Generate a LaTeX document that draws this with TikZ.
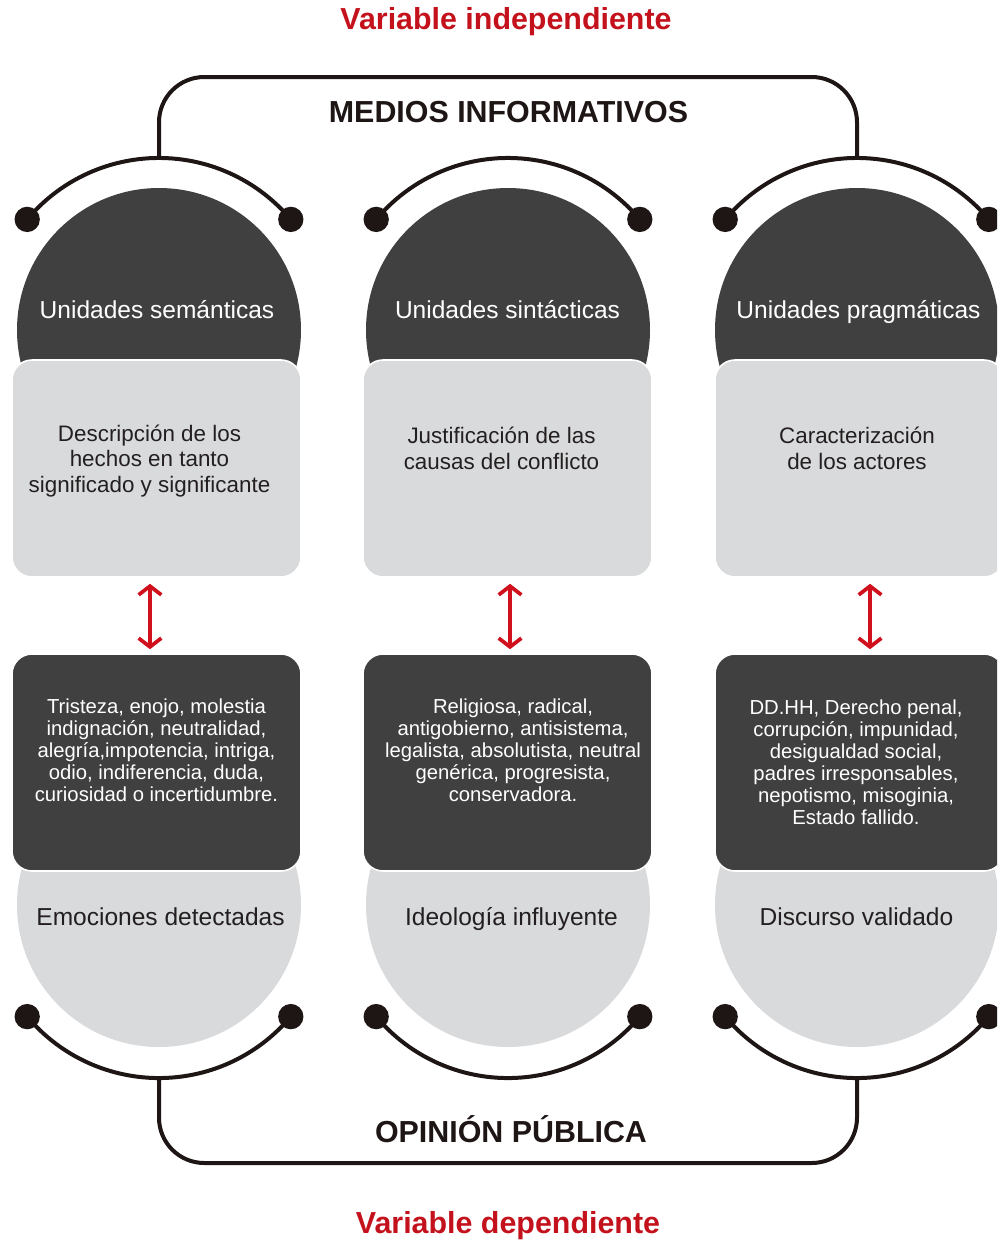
\documentclass[tikz,border=0pt]{standalone}
\usepackage{fontspec}
\setmainfont{Liberation Sans}
\usetikzlibrary{arrows.meta}
\definecolor{darkfill}{HTML}{404040}
\definecolor{lightfill}{HTML}{D9DADC}
\definecolor{ink}{HTML}{1E1515}
\definecolor{redc}{HTML}{C4121C}
\definecolor{arrowred}{HTML}{D0101C}
\definecolor{textdark}{HTML}{231F20}
\begin{document}
\begin{tikzpicture}[x=0.75pt,y=-0.75pt,
  darkcirc/.style={circle, fill=darkfill, minimum size=213pt, inner sep=0pt},
  lightcirc/.style={circle, fill=lightfill, minimum size=213pt, inner sep=0pt},
  lightbox/.style={rectangle, rounded corners=15pt, fill=lightfill, draw=white, line width=1.2pt, minimum width=216.75pt, minimum height=162.75pt, inner sep=0pt},
  darkbox/.style={rectangle, rounded corners=15pt, fill=darkfill, draw=white, line width=1.2pt, minimum width=216.75pt, minimum height=162.75pt, inner sep=0pt},
  dot/.style={circle, fill=ink, minimum size=19pt, inner sep=0pt},
  conn/.style={draw=ink, line width=3pt},
  dblarrow/.style={draw=arrowred, line width=2.8pt, {Straight Barb[length=6.5pt,width=17pt]}-{Straight Barb[length=6.5pt,width=17pt]}, shorten <=4.5pt, shorten >=3pt},
  circlabel/.style={font=\fontsize{18.4pt}{22pt}\selectfont, anchor=base},
  boxtext/.style={align=center, font=\fontsize{16.8pt}{19pt}\selectfont, text=textdark},
  darktext/.style={align=center, font=\fontsize{15.2pt}{16.5pt}\selectfont, text=white},
  titletext/.style={font=\bfseries\fontsize{22.8pt}{26pt}\selectfont, anchor=base},
]
\useasboundingbox (0,0) rectangle (997,1243);
\clip (0,0) rectangle (997,1243);

% titles
\node[titletext, text=redc] (vi) at (506,29) {Variable independiente};
\node[titletext, text=ink] (mi) at (508.5,122) {MEDIOS INFORMATIVOS};
\node[titletext, text=ink] (op) at (511,1142) {OPINIÓN PÚBLICA};
\node[titletext, text=redc] (vd) at (508,1233) {Variable dependiente};

% top circles
\node[darkcirc] (C1) at (159,330) {};
\node[darkcirc] (C2) at (508,330) {};
\node[darkcirc] (C3) at (857,330) {};
\node[circlabel, text=white] (C1t) at (157,318) {Unidades semánticas};
\node[circlabel, text=white] (C2t) at (507.5,318) {Unidades sintácticas};
\node[circlabel, text=white] (C3t) at (858.5,318) {Unidades pragmáticas};

% light boxes
\node[lightbox] (L1) at (156.5,468.5) {};
\node[lightbox] (L2) at (507.5,468.5) {};
\node[lightbox] (L3) at (859.5,468.5) {};
\node[boxtext] (L1t) at (149.5,461) {Descripción de los\\hechos en tanto\\significado y significante};
\node[boxtext] (L2t) at (501.5,448.5) {Justificación de las\\causas del conflicto};
\node[boxtext] (L3t) at (857,448.5) {Caracterización\\de los actores};

% bottom circles
\node[lightcirc] (B1) at (159,905) {};
\node[lightcirc] (B2) at (508,905) {};
\node[lightcirc] (B3) at (857,905) {};
\node[circlabel, text=textdark] (B1t) at (160.5,925) {Emociones detectadas};
\node[circlabel, text=textdark] (B2t) at (511.5,925) {Ideología influyente};
\node[circlabel, text=textdark] (B3t) at (856.5,925) {Discurso validado};

% dark boxes
\node[darkbox] (D1) at (156.5,762.5) {};
\node[darkbox] (D2) at (507.5,762.5) {};
\node[darkbox] (D3) at (859.5,762.5) {};
\node[darktext] (D1t) at (156.5,750.5) {Tristeza, enojo, molestia\\indignación, neutralidad,\\alegría,impotencia, intriga,\\odio, indiferencia, duda,\\curiosidad o incertidumbre.};
\node[darktext] (D2t) at (513,750.5) {Religiosa, radical,\\antigobierno, antisistema,\\legalista, absolutista, neutral\\genérica, progresista,\\conservadora.};
\node[darktext] (D3t) at (856,762.5) {DD.HH, Derecho penal,\\corrupción, impunidad,\\desigualdad social,\\padres irresponsables,\\nepotismo, misoginia,\\Estado fallido.};

% red double arrows
\draw[dblarrow] ([xshift=-4.9pt]L1.south) -- ([xshift=-4.9pt]D1.north);
\draw[dblarrow] ([xshift=1.9pt]L2.south) -- ([xshift=1.9pt]D2.north);
\draw[dblarrow] ([xshift=7.9pt]L3.south) -- ([xshift=7.9pt]D3.north);

% dots (top)
\node[dot] (dT1a) at (27.2,219.4) {};
\node[dot] (dT1b) at (290.8,219.4) {};
\node[dot] (dT2a) at (376.2,219.4) {};
\node[dot] (dT2b) at (639.8,219.4) {};
\node[dot] (dT3a) at (725.2,219.4) {};
\node[dot] (dT3b) at (988.8,219.4) {};
% dots (bottom)
\node[dot] (dB1a) at (27.2,1016.6) {};
\node[dot] (dB1b) at (290.8,1016.6) {};
\node[dot] (dB2a) at (376.2,1016.6) {};
\node[dot] (dB2b) at (639.8,1016.6) {};
\node[dot] (dB3a) at (725.2,1016.6) {};
\node[dot] (dB3b) at (988.8,1016.6) {};

% arcs
\draw[conn] (dT1a.center) arc[start angle=140, end angle=40, radius=129pt];
\draw[conn] (dT2a.center) arc[start angle=140, end angle=40, radius=129pt];
\draw[conn] (dT3a.center) arc[start angle=140, end angle=40, radius=129pt];
\draw[conn] (dB1a.center) arc[start angle=220, end angle=320, radius=129pt];
\draw[conn] (dB2a.center) arc[start angle=220, end angle=320, radius=129pt];
\draw[conn] (dB3a.center) arc[start angle=220, end angle=320, radius=129pt];

% brackets
\coordinate (pT1) at (159,158);
\coordinate (pT3) at (857,158);
\coordinate (pB1) at (159,1078);
\coordinate (pB3) at (857,1078);
\draw[conn, rounded corners=34pt] (pT1) -- (159,77) -- (857,77) -- (pT3);
\draw[conn, rounded corners=34pt] (pB1) -- (159,1163) -- (857,1163) -- (pB3);
\end{tikzpicture}
\end{document}
